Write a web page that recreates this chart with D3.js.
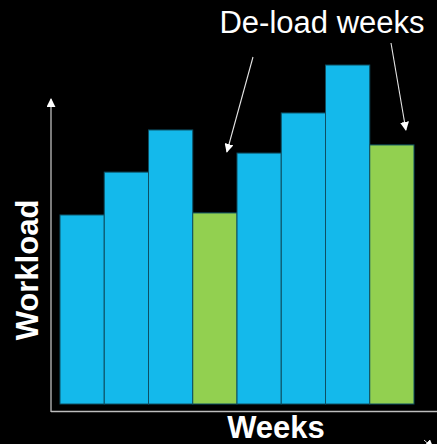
<!DOCTYPE html>
<html>
<head>
<meta charset="utf-8">
<script src="https://cdn.jsdelivr.net/npm/d3@7"></script>
<style>
  html, body { margin: 0; padding: 0; background: #000; }
  svg { display: block; }
</style>
</head>
<body>
<svg id="chart" width="437" height="444"></svg>
<script>
// Weekly training load, with two lighter de-load weeks
const weeks = ["W1", "W2", "W3", "W4", "W5", "W6", "W7", "W8"];
const workload = [55.6, 68.2, 80.6, 56.2, 73.8, 85.6, 99.7, 76.2];
const deloadWeeks = ["W4", "W8"];

const svg = d3.select("#chart");
const font = "'Liberation Sans', Arial, sans-serif";

const x = d3.scaleBand().domain(weeks).range([60, 414]).padding(0);
const y = d3.scaleLinear().domain([0, 100]).range([404, 64]);

svg.append("rect").attr("width", 437).attr("height", 444).attr("fill", "#000");

const defs = svg.append("defs");
defs.append("marker")
  .attr("id", "head")
  .attr("viewBox", "0 0 10 10")
  .attr("refX", 9).attr("refY", 5)
  .attr("markerWidth", 9).attr("markerHeight", 9)
  .attr("markerUnits", "userSpaceOnUse")
  .attr("orient", "auto")
  .append("path").attr("d", "M0,0 L10,5 L0,10 Z").attr("fill", "#fff");

// Bars
svg.append("g").selectAll("rect")
  .data(weeks)
  .join("rect")
  .attr("x", d => x(d))
  .attr("y", (d, i) => y(workload[i]))
  .attr("width", x.bandwidth())
  .attr("height", (d, i) => y(0) - y(workload[i]))
  .attr("fill", d => deloadWeeks.includes(d) ? "#92d050" : "#14b9eb")
  .attr("stroke", "#0d4f63")
  .attr("stroke-width", 1);

// Axes drawn as plain arrows
svg.append("line")
  .attr("x1", 51).attr("y1", 412).attr("x2", 51).attr("y2", 99)
  .attr("stroke", "#bdbdbd").attr("stroke-width", 1.3)
  .attr("marker-end", "url(#head)");
svg.append("line")
  .attr("x1", 51).attr("y1", 411.5).attr("x2", 437).attr("y2", 411.5)
  .attr("stroke", "#bdbdbd").attr("stroke-width", 1.3);
svg.append("line")
  .attr("x1", 424).attr("y1", 440).attr("x2", 433).attr("y2", 448)
  .attr("stroke", "#ddd").attr("stroke-width", 1)
  .attr("marker-end", "url(#head)");

// Axis titles
svg.append("text")
  .attr("x", 276).attr("y", 438)
  .attr("text-anchor", "middle")
  .attr("font-family", font).attr("font-weight", "bold").attr("font-size", 31)
  .attr("fill", "#fff")
  .text("Weeks");
svg.append("text")
  .attr("transform", "translate(38,270) rotate(-90)")
  .attr("text-anchor", "middle")
  .attr("font-family", font).attr("font-weight", "bold").attr("font-size", 31)
  .attr("fill", "#fff")
  .text("Workload");

// Annotation
svg.append("text")
  .attr("x", 322).attr("y", 33)
  .attr("text-anchor", "middle")
  .attr("font-family", font).attr("font-size", 31)
  .attr("fill", "#fff")
  .text("De-load weeks");

const callouts = [
  { from: [253, 57], week: "W4", tipY: 152, tipDx: 12 },
  { from: [391, 43], week: "W8", tipY: 130, tipDx: 14 }
];
svg.append("g").selectAll("line")
  .data(callouts)
  .join("line")
  .attr("x1", d => d.from[0]).attr("y1", d => d.from[1])
  .attr("x2", d => x(d.week) + x.bandwidth() / 2 + d.tipDx)
  .attr("y2", d => d.tipY)
  .attr("stroke", "#e6e6e6").attr("stroke-width", 1.1)
  .attr("marker-end", "url(#head)");
</script>
</body>
</html>
